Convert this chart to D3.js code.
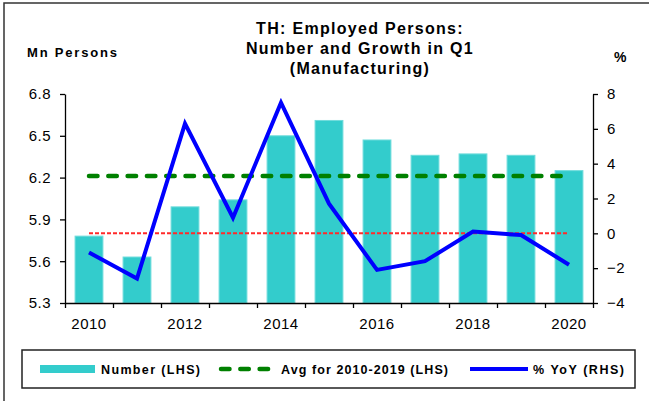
<!DOCTYPE html>
<html>
<head>
<meta charset="utf-8">
<script src="https://cdn.jsdelivr.net/npm/d3@7"></script>
<style>
  body { margin: 0; background: #fff; }
  svg { display: block; font-family: "Liberation Sans", Arial, sans-serif; }
</style>
</head>
<body>
<div id="chart"></div>
<script>
// data
const years = [2010, 2011, 2012, 2013, 2014, 2015, 2016, 2017, 2018, 2019, 2020];
const numbers = [5.78, 5.63, 5.99, 6.04, 6.50, 6.61, 6.47, 6.36, 6.37, 6.36, 6.25];
const yoy = [-1.1, -2.6, 6.3, 0.9, 7.5, 1.7, -2.1, -1.6, 0.1, -0.1, -1.8];
const avgYears = [2010, 2019];
const leftTicks = [5.3, 5.6, 5.9, 6.2, 6.5, 6.8];
const rightTicks = [-4, -2, 0, 2, 4, 6, 8];
const yearLabels = [2010, 2012, 2014, 2016, 2018, 2020];
const titleLines = ["TH: Employed Persons:", "Number and Growth in Q1", "(Manufacturing)"];
const legendItems = ["Number (LHS)", "Avg for 2010-2019 (LHS)", "% YoY (RHS)"];

const W = 649, H = 401;
const plot = { left: 65, right: 593, top: 94, bottom: 303 };

const avg = d3.mean(numbers.filter((d, i) => years[i] >= avgYears[0] && years[i] <= avgYears[1]));

const svg = d3.select("#chart").append("svg")
  .attr("width", W)
  .attr("height", H);

// outer frame (right / bottom edges run off the picture)
svg.append("rect")
  .attr("x", 4).attr("y", 3)
  .attr("width", 660).attr("height", 420)
  .attr("fill", "none")
  .attr("stroke", "#333")
  .attr("stroke-width", 1.5);

const x = d3.scaleBand()
  .domain(years)
  .range([plot.left, plot.right])
  .paddingInner(0.42)
  .paddingOuter(0.21);

const xEdge = d3.scaleLinear()
  .domain([0, years.length])
  .range([plot.left, plot.right]);

const yL = d3.scaleLinear().domain([5.3, 6.8]).range([plot.bottom, plot.top]);
const yR = d3.scaleLinear().domain([-4, 8]).range([plot.bottom, plot.top]);

const cx = d => x(d) + x.bandwidth() / 2;

// title
svg.append("text")
  .attr("x", 360)
  .attr("y", 34)
  .attr("text-anchor", "middle")
  .style("font-size", "16px")
  .style("font-weight", "bold")
  .style("letter-spacing", "1.3px")
  .selectAll("tspan")
  .data(titleLines)
  .enter()
  .append("tspan")
  .attr("x", 360)
  .attr("dy", (d, i) => i === 0 ? 0 : 20)
  .text(d => d);

svg.append("text")
  .attr("x", 27).attr("y", 57)
  .style("font-size", "13px")
  .style("font-weight", "bold")
  .style("letter-spacing", "1.8px")
  .text("Mn Persons");

svg.append("text")
  .attr("x", 614).attr("y", 62)
  .style("font-size", "14px")
  .style("font-weight", "bold")
  .text("%");

// bars
svg.append("g")
  .selectAll("rect")
  .data(years)
  .enter()
  .append("rect")
  .attr("x", d => x(d))
  .attr("width", x.bandwidth())
  .attr("y", (d, i) => yL(numbers[i]))
  .attr("height", (d, i) => yL(5.3) - yL(numbers[i]))
  .attr("fill", "#33cccc")
  .attr("stroke", "#70dcdc")
  .attr("stroke-width", 1);

// zero line (RHS)
svg.append("line")
  .attr("x1", cx(years[0]))
  .attr("x2", cx(years[years.length - 1]))
  .attr("y1", yR(0)).attr("y2", yR(0))
  .attr("stroke", "#ff2a2a")
  .attr("stroke-width", 2)
  .attr("stroke-dasharray", "4 2");

// average line
svg.append("line")
  .attr("x1", cx(years[0]))
  .attr("x2", cx(years[years.length - 1]))
  .attr("y1", yL(avg)).attr("y2", yL(avg))
  .attr("stroke", "#008000")
  .attr("stroke-width", 4.5)
  .attr("stroke-linecap", "round")
  .attr("stroke-dasharray", "8.5 10.8");

// yoy line
const line = d3.line()
  .x(d => cx(d[0]))
  .y(d => yR(d[1]));

svg.append("path")
  .datum(years.map((d, i) => [d, yoy[i]]))
  .attr("d", line)
  .attr("fill", "none")
  .attr("stroke", "#0000ff")
  .attr("stroke-width", 4)
  .attr("stroke-linejoin", "miter");

// axes
const styleAxis = g => {
  g.select(".domain").attr("stroke", "#000").attr("stroke-width", 1.3);
  g.selectAll(".tick line").attr("stroke", "#000").attr("stroke-width", 1.3);
  g.selectAll(".tick text")
    .attr("fill", "#000")
    .style("font-size", "15px")
    .style("letter-spacing", "0.5px")
    .style("font-family", "'Liberation Sans', Arial, sans-serif");
};

svg.append("g")
  .attr("transform", `translate(${plot.left},0)`)
  .call(d3.axisLeft(yL).tickValues(leftTicks).tickFormat(d3.format(".1f")).tickSize(5).tickSizeOuter(0).tickPadding(9))
  .call(styleAxis);

svg.append("g")
  .attr("transform", `translate(${plot.right},0)`)
  .call(d3.axisRight(yR).tickValues(rightTicks).tickSize(5).tickSizeOuter(0).tickPadding(9))
  .call(styleAxis);

svg.append("g")
  .attr("transform", `translate(0,${plot.bottom})`)
  .call(d3.axisBottom(xEdge).tickValues(d3.range(years.length + 1)).tickFormat("").tickSize(5).tickSizeOuter(0))
  .call(styleAxis);

svg.append("g")
  .selectAll("text")
  .data(yearLabels)
  .enter()
  .append("text")
  .attr("x", d => cx(d))
  .attr("y", 329)
  .attr("text-anchor", "middle")
  .style("font-size", "15px")
  .style("letter-spacing", "0.5px")
  .text(d => d);

// legend
const legend = svg.append("g");

legend.append("rect")
  .attr("x", 22).attr("y", 350)
  .attr("width", 613).attr("height", 38)
  .attr("fill", "none")
  .attr("stroke", "#222")
  .attr("stroke-width", 1.5);

legend.append("rect")
  .attr("x", 40).attr("y", 365)
  .attr("width", 55).attr("height", 8)
  .attr("fill", "#33cccc");

legend.append("line")
  .attr("x1", 221).attr("x2", 271)
  .attr("y1", 369).attr("y2", 369)
  .attr("stroke", "#008000")
  .attr("stroke-width", 4.5)
  .attr("stroke-linecap", "round")
  .attr("stroke-dasharray", "8.5 10.8");

legend.append("line")
  .attr("x1", 470).attr("x2", 528)
  .attr("y1", 369).attr("y2", 369)
  .attr("stroke", "#0000ff")
  .attr("stroke-width", 4);

legend.selectAll("text.item")
  .data(legendItems)
  .enter()
  .append("text")
  .attr("class", "item")
  .attr("x", (d, i) => [101, 281, 533][i])
  .attr("y", 374)
  .attr("textLength", (d, i) => [99, 167, 91][i])
  .attr("lengthAdjust", "spacing")
  .style("font-size", "12.5px")
  .style("font-weight", "bold")
  .text(d => d);
</script>
</body>
</html>
